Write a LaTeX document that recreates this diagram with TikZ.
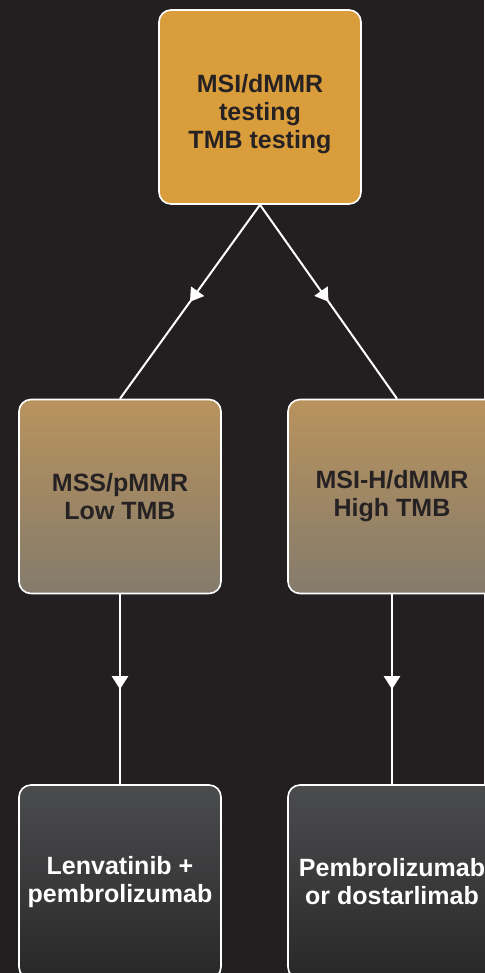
\documentclass[tikz,border=0pt]{standalone}
\usepackage{fontspec}
\setmainfont{Liberation Sans}
\usepackage{xcolor}
\usetikzlibrary{arrows.meta,decorations.markings}
\definecolor{bgDark}{RGB}{35,31,32}
\definecolor{goldBox}{RGB}{218,157,60}
\definecolor{sandTop}{RGB}{185,147,93}
\definecolor{sandBottom}{RGB}{132,123,108}
\definecolor{slateTop}{RGB}{75,76,78}
\definecolor{slateBottom}{RGB}{41,40,41}
\definecolor{inkDark}{RGB}{38,34,35}

\tikzset{
    box/.style={draw=white, line width=1.6pt, rounded corners=12pt,
        align=center, inner sep=0pt, minimum width=202pt, minimum height=194pt,
        font=\fontsize{25}{28}\selectfont\bfseries},
    testbox/.style={box, fill=goldBox, text=inkDark, text height=88pt},
    statusbox/.style={box, top color=sandTop, bottom color=sandBottom, text=inkDark},
    therapybox/.style={box, top color=slateTop, bottom color=slateBottom, text=white},
    flow/.style={white, line width=2pt, postaction={decorate},
        decoration={markings,
            mark=at position 0.5 with {\arrow{Triangle[length=13pt,width=16pt]}}}}
}

\begin{document}
\begin{tikzpicture}[x=1pt,y=1pt]

    % canvas
    \useasboundingbox (0,0) rectangle (484,973);
    \fill[bgDark] (0,0) rectangle (484,973);

    % testing step
    \node[testbox] (testing) at (260,866) {MSI/dMMR\\testing\\TMB testing};

    % tumour status
    \node[statusbox] (lowtmb) at (120,476.5) {MSS/pMMR\\Low TMB};
    \node[statusbox, minimum width=208pt] (hightmb) at (392,476.5) {MSI-H/dMMR\\High TMB};

    % treatment
    \node[therapybox] (lenva) at (120,91) {Lenvatinib +\\pembrolizumab};
    \node[therapybox, minimum width=208pt] (pembro) at (392,91) {Pembrolizumab\\or dostarlimab};

    % connectors
    \draw[flow] (testing.south) -- (lowtmb.north);
    \draw[flow] (testing.south) -- ([xshift=5pt]hightmb.north);
    \draw[flow] (lowtmb.south) -- (lenva.north);
    \draw[flow] (hightmb.south) -- (pembro.north);

\end{tikzpicture}
\end{document}
